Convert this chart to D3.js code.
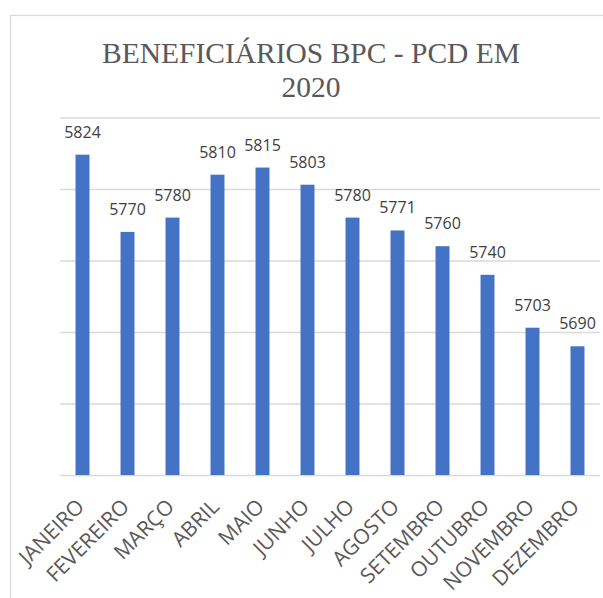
<!DOCTYPE html>
<html>
<head>
<meta charset="utf-8">
<script src="https://cdn.jsdelivr.net/npm/d3@7"></script>
<style>
  body { margin: 0; background: #fff; }
</style>
</head>
<body>
<div id="chart"></div>
<script>
const months = ["JANEIRO", "FEVEREIRO", "MARÇO", "ABRIL", "MAIO", "JUNHO",
  "JULHO", "AGOSTO", "SETEMBRO", "OUTUBRO", "NOVEMBRO", "DEZEMBRO"];
const beneficiarios = [5824, 5770, 5780, 5810, 5815, 5803, 5780, 5771, 5760, 5740, 5703, 5690];
const gridTicks = [5600, 5650, 5700, 5750, 5800, 5850];

const W = 603, H = 598;
const margin = { top: 117.5, right: 3, bottom: 123, left: 60 };
const width = W - margin.left - margin.right;
const height = H - margin.top - margin.bottom;

d3.select("#chart").selectAll("*").remove();

const root = d3.select("#chart")
  .append("svg")
  .attr("width", W)
  .attr("height", H);

// chart frame (runs off the right and bottom edges)
root.append("rect")
  .attr("x", 10.5)
  .attr("y", 15.5)
  .attr("width", 700)
  .attr("height", 700)
  .attr("fill", "#fff")
  .attr("stroke", "#d9d9d9")
  .attr("stroke-width", 1.2);

// title
const title = root.append("text")
  .attr("text-anchor", "middle")
  .attr("fill", "#595959")
  .style("font-family", "'Liberation Serif', 'Times New Roman', serif")
  .style("font-size", "29.5px");
title.append("tspan").attr("x", 311).attr("y", 63).text("BENEFICIÁRIOS BPC - PCD EM");
title.append("tspan").attr("x", 311).attr("y", 97).text("2020");

const svg = root.append("g")
  .attr("transform", `translate(${margin.left},${margin.top})`);

const x = d3.scaleBand().domain(months).range([0, width]).paddingInner(0.69).paddingOuter(0.345);
const y = d3.scaleLinear().domain([5600, 5850]).range([height, 0]);

// grid lines
svg.append("g")
  .attr("class", "grid")
  .call(d3.axisLeft(y).tickValues(gridTicks).tickSize(-width).tickFormat(""))
  .call(g => g.select(".domain").remove());

svg.selectAll(".grid line")
  .style("stroke", "#d9d9d9")
  .style("stroke-width", 1.3);

// bars
svg.selectAll(".bar")
  .data(beneficiarios)
  .join("rect")
  .attr("class", "bar")
  .attr("x", (d, i) => x(months[i]))
  .attr("width", x.bandwidth())
  .attr("y", d => y(d))
  .attr("height", d => height - y(d))
  .attr("fill", "#4472c4");

// value labels
svg.selectAll(".val")
  .data(beneficiarios)
  .join("text")
  .attr("class", "val")
  .attr("x", (d, i) => x(months[i]) + x.bandwidth() / 2)
  .attr("y", d => y(d) - 17)
  .attr("text-anchor", "middle")
  .attr("fill", "#404040")
  .style("font-family", "'Open Sans', sans-serif")
  .style("font-size", "16px")
  .text(d => d);

// x axis labels
const xAxis = svg.append("g")
  .attr("transform", `translate(0,${height})`)
  .call(d3.axisBottom(x).tickSize(0).tickPadding(0));
xAxis.select(".domain").remove();
xAxis.selectAll("text")
  .attr("fill", "#595959")
  .style("font-family", "'Open Sans', sans-serif")
  .style("font-size", "21px")
  .style("text-anchor", "end")
  .attr("y", 0)
  .attr("dy", 0)
  .attr("transform", "translate(3,33) rotate(-45)");
</script>
</body>
</html>
